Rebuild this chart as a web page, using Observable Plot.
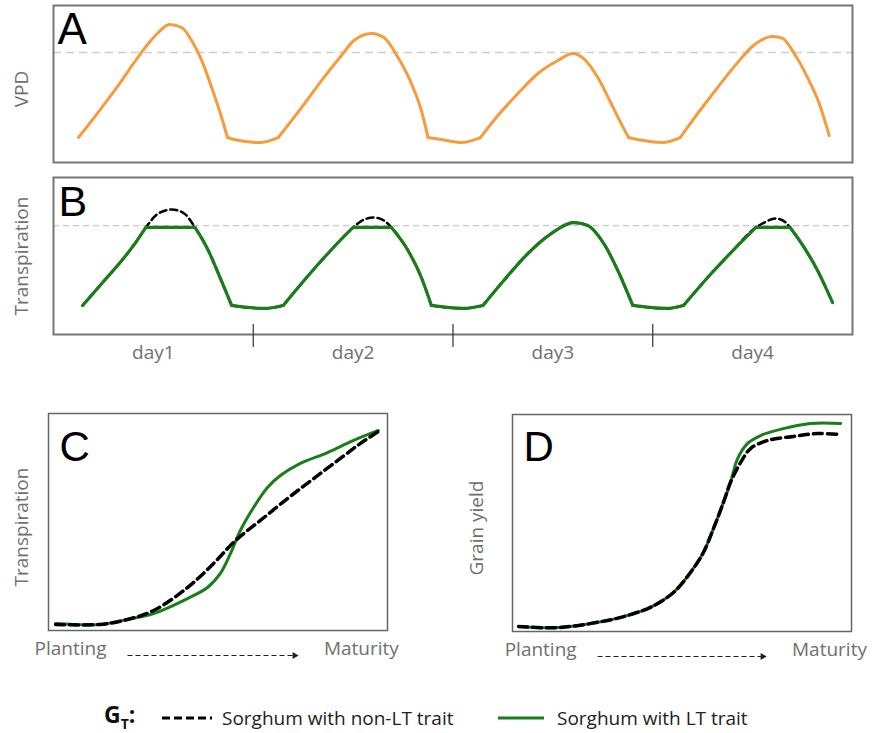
<!DOCTYPE html>
<html>
<head>
<meta charset="utf-8">
<script src="https://cdn.jsdelivr.net/npm/d3@7"></script>
<script src="https://cdn.jsdelivr.net/npm/@observablehq/plot@0.6"></script>
<style>
  body { margin: 0; background: #fff; }
  #fig { position: relative; width: 874px; height: 733px; background: #fff; font-family: "Open Sans", sans-serif; overflow: hidden; }
  .panel { position: absolute; }
  .panel svg { display: block; overflow: visible; }
  .leg { position: absolute; height: 28px; line-height: 28px; color: #222; font-size: 19px; white-space: nowrap; }
  .leg svg { display: block; }
</style>
</head>
<body>
<div id="fig"></div>
<script>
// ---------- Panel A: VPD over four days (hours 0-96, arbitrary units 0-100) ----------
const vpdHour = [3.0,5.8,8.2,9.7,11.4,12.6,13.9,15.4,16.6,17.8,19.0,20.2,20.9,21.7,24.8,27.0,29.8,32.2,34.6,36.1,38.2,39.7,41.4,43.0,44.2,45.0,46.6,49.0,51.3,53.4,55.8,58.2,60.6,62.4,63.7,65.4,67.0,68.2,69.1,70.2,73.2,75.3,77.4,79.8,82.2,84.1,86.4,87.6,89.0,90.6,92.0,93.2];
const vpdValue = [15.9,35.0,52.2,63.7,75.8,82.8,87.9,86.0,77.7,65.0,47.8,28.7,15.9,14.6,12.7,15.9,35.0,52.2,68.2,77.7,82.2,79.6,66.9,50.3,33.1,15.9,14.6,12.7,15.9,29.9,43.9,56.7,65.0,69.4,66.2,54.1,37.6,24.8,15.9,14.6,12.7,15.9,31.2,47.8,63.7,74.5,80.3,79.0,69.4,54.1,37.6,17.2];
const vpdCorners = [12, 15, 25, 28, 38, 41];   // indices where the night-time plateau starts/ends
const vpdThreshold = 70.1;

// ---------- Panel B: transpiration over four days ----------
const transpHour = [3.5,5.8,8.2,9.8,11.1,12.6,14.2,15.7,17.0,18.6,19.8,21.4,25.3,27.6,29.8,32.2,34.2,36.0,37.3,38.5,39.7,40.6,42.6,44.2,45.4,49.2,51.6,54.1,57.0,59.8,62.5,64.2,66.1,67.8,69.6,73.6,75.7,78.6,81.4,84.4,85.4,86.8,88.0,88.5,90.2,91.8,93.6];
const transpNonLT = [18.5,32.5,47.1,58.0,68.2,77.1,79.6,77.1,68.2,53.5,38.9,18.5,16.6,18.5,32.5,47.1,58.6,68.2,73.2,74.5,72.6,68.2,53.5,36.3,18.5,16.6,18.5,34.4,51.6,64.3,71.3,69.4,58.0,40.8,18.5,16.6,18.5,36.3,52.2,68.2,71.3,73.9,71.3,68.2,55.4,40.8,20.4];
const transpLT = [18.5,32.5,47.1,58.0,68.2,68.2,68.2,68.2,68.2,53.5,38.9,18.5,16.6,18.5,32.5,47.1,58.6,68.2,68.2,68.2,68.2,68.2,53.5,36.3,18.5,16.6,18.5,34.4,51.6,64.3,71.3,69.4,58.0,40.8,18.5,16.6,18.5,36.3,52.2,68.2,68.2,68.2,68.2,68.2,55.4,40.8,20.4];
const transpCorners = [11, 13, 24, 26, 34, 36];  // night-time plateau starts/ends
const capCorners = [4, 8, 17, 21, 39, 43];       // where the LT line meets / leaves its cap
const transpThreshold = 69.4;
const dayBounds = [24, 48, 72];
const dayCenters = [12, 36, 60, 84];
const dayLabels = ["day1", "day2", "day3", "day4"];

// ---------- Panel C: cumulative transpiration, planting (0) to maturity (100) ----------
const cNonLTx = [2.1,15.3,23.3,31.0,41.0,48.7,55.2,62.5,70.5,78.2,86.1,92.0,97.3];
const cNonLTy = [2.8,2.8,5.1,9.2,19.8,30.9,41.5,50.7,60.8,70.0,79.3,86.2,91.7];
const cLTx = [2.1,15.3,23.3,31.0,41.0,46.9,50.7,53.7,56.6,60.5,64.6,68.4,74.3,82.3,90.0,97.3];
const cLTy = [3.2,2.8,5.1,7.8,14.7,19.8,26.3,35.5,46.1,56.7,65.9,71.4,77.0,82.0,87.6,92.2];

// ---------- Panel D: grain yield, planting (0) to maturity (100) ----------
const dNonLTx = [1.8,13.3,28.0,34.8,40.7,47.5,52.5,56.3,59.3,62.2,64.3,67.3,70.2,75.2,82.9,90.0,96.8];
const dNonLTy = [2.3,1.8,5.1,7.8,11.1,18.0,27.2,36.4,47.5,59.4,68.7,77.9,84.3,88.0,89.9,91.2,90.8];
const dLTx = [1.8,13.3,28.0,34.8,40.7,47.5,52.5,56.3,59.3,62.2,64.3,66.4,69.3,73.2,79.9,87.9,96.8];
const dLTy = [2.3,1.8,5.1,7.8,11.1,18.0,27.2,36.4,47.5,59.4,68.7,79.7,86.6,90.3,93.5,95.9,95.9];

const stageLabels = ["Planting", "Maturity"];
const stageLabelPosC = [6.5, 92.3];
const stageLabelPosD = [8.3, 93.5];
const stageArrowC = [23.3, 72.3];
const stageArrowD = [25.1, 73.5];

const legendLabels = ["Sorghum with non-LT trait", "Sorghum with LT trait"];

// ---------- styling ----------
const ORANGE = "#f79b3f";
const GREEN = "#1a7d1a";
const LABEL_GRAY = "#707070";
const LETTER_FONT = "'Liberation Sans', Arial, sans-serif";
const LABEL_FONT = "'Open Sans', sans-serif";

const fig = document.getElementById("fig");
function place(svg, left, top) {
  const d = document.createElement("div");
  d.className = "panel";
  d.style.left = left + "px";
  d.style.top = top + "px";
  d.appendChild(svg);
  fig.appendChild(d);
}
const pts = (xs, ys) => xs.map((x, i) => ({x, y: ys[i]}));
// split a series into pieces at corner indices (corner point shared by both pieces) so corners stay sharp
function pieces(xs, ys, corners) {
  const cs = [...corners].sort((a, b) => a - b);
  const out = [];
  let seg = 0;
  xs.forEach((x, i) => {
    out.push({x, y: ys[i], seg});
    if (cs.includes(i)) { seg++; out.push({x, y: ys[i], seg}); }
  });
  return out;
}
const noAxes = {x: {domain: [0, 96], axis: null}, y: {domain: [0, 100], axis: null}};
const yLabelOpts = {frameAnchor: "left", textAnchor: "middle", lineAnchor: "middle", rotate: -90, fontSize: 19, fontFamily: LABEL_FONT, fill: LABEL_GRAY};

// Panel A
place(Plot.plot({
  width: 874, height: 170,
  marginLeft: 53, marginRight: 22, marginTop: 5, marginBottom: 8,
  ...noAxes,
  style: {background: "transparent", overflow: "visible"},
  marks: [
    Plot.ruleY([vpdThreshold], {stroke: "#cfcfcf", strokeWidth: 1.5, strokeDasharray: "8,5"}),
    Plot.line(pieces(vpdHour, vpdValue, vpdCorners), {x: "x", y: "y", z: "seg", stroke: ORANGE, strokeWidth: 3, curve: "monotone-x", strokeLinejoin: "round", strokeLinecap: "round"}),
    Plot.frame({stroke: "#777", strokeWidth: 2}),
    Plot.text(["A"], {frameAnchor: "top-left", textAnchor: "start", lineAnchor: "top", dx: 4, dy: 7, fontSize: 44, fontFamily: LETTER_FONT, fill: "black"}),
    Plot.text(["VPD"], {...yLabelOpts, dx: -32, dy: 5})
  ]
}), 0, 0);

// Panel B
place(Plot.plot({
  width: 874, height: 200,
  marginLeft: 53, marginRight: 22, marginTop: 7, marginBottom: 36,
  ...noAxes,
  style: {background: "transparent", overflow: "visible"},
  marks: [
    Plot.ruleY([transpThreshold], {stroke: "#c8c8c8", strokeWidth: 1.2, strokeDasharray: "6,4"}),
    Plot.line(pieces(transpHour, transpNonLT, transpCorners), {x: "x", y: "y", z: "seg", stroke: "black", strokeWidth: 2.5, strokeDasharray: "7,4", curve: "monotone-x"}),
    Plot.line(pieces(transpHour, transpLT, [...transpCorners, ...capCorners]), {x: "x", y: "y", z: "seg", stroke: GREEN, strokeWidth: 3.2, curve: "monotone-x", strokeLinecap: "round"}),
    Plot.frame({stroke: "#777", strokeWidth: 2}),
    Plot.ruleX(dayBounds, {y1: -8.3, y2: 6.4, stroke: "#333", strokeWidth: 1.2}),
    Plot.text(dayLabels, {x: dayCenters, frameAnchor: "bottom", dy: 24, fontSize: 19, fontFamily: LABEL_FONT, fill: LABEL_GRAY}),
    Plot.text(["B"], {frameAnchor: "top-left", textAnchor: "start", lineAnchor: "top", dx: 5, dy: 8, fontSize: 43, fontFamily: LETTER_FONT, fill: "black"}),
    Plot.text(["Transpiration"], {...yLabelOpts, dx: -32, dy: 0})
  ]
}), 0, 170);

function stagePanel({letter, yLabel, nonLT, lt, labelPos, arrow, marginLeft, marginRight, marginTop, marginBottom, letterDx, letterDy, labelDx}) {
  return Plot.plot({
    width: 437, height: 270,
    marginLeft, marginRight, marginTop, marginBottom,
    x: {domain: [0, 100], axis: null},
    y: {domain: [0, 100], axis: null},
    style: {background: "transparent", overflow: "visible"},
    marks: [
      Plot.line(lt, {x: "x", y: "y", stroke: GREEN, strokeWidth: 3, curve: "catmull-rom"}),
      Plot.line(nonLT, {x: "x", y: "y", stroke: "black", strokeWidth: 3.5, strokeDasharray: "9,5", curve: "catmull-rom"}),
      Plot.frame({stroke: "#666", strokeWidth: 1.5}),
      Plot.text([letter], {frameAnchor: "top-left", textAnchor: "start", lineAnchor: "top", dx: letterDx, dy: letterDy, fontSize: 42, fontFamily: LETTER_FONT, fill: "black"}),
      Plot.text([yLabel], {...yLabelOpts, dx: labelDx, dy: 5}),
      Plot.text(stageLabels, {x: labelPos, frameAnchor: "bottom", dy: 24, fontSize: 19, fontFamily: LABEL_FONT, fill: LABEL_GRAY}),
      Plot.link([{a: arrow[0], b: arrow[1]}], {x1: "a", x2: "b", y1: 0, y2: 0, dy: 25, stroke: "#222", strokeWidth: 1.2, strokeDasharray: "5,3"}),
      Plot.dot([{b: arrow[1]}], {x: "b", y: 0, dy: 25, dx: 1, symbol: "triangle", rotate: 90, r: 2.6, fill: "#222", stroke: "none"})
    ]
  });
}

place(stagePanel({
  letter: "C", yLabel: "Transpiration",
  nonLT: pts(cNonLTx, cNonLTy), lt: pts(cLTx, cLTy),
  labelPos: stageLabelPosC, arrow: stageArrowC,
  marginLeft: 48, marginRight: 50, marginTop: 13, marginBottom: 40,
  letterDx: 11, letterDy: 18, labelDx: -27
}), 0, 400);

place(stagePanel({
  letter: "D", yLabel: "Grain yield",
  nonLT: pts(dNonLTx, dNonLTy), lt: pts(dLTx, dLTy),
  labelPos: stageLabelPosD, arrow: stageArrowD,
  marginLeft: 75, marginRight: 23, marginTop: 14, marginBottom: 39,
  letterDx: 11, letterDy: 17, labelDx: -36
}), 437, 400);

// Legend (below the panels)
function legItem(left, top, html) {
  const d = document.createElement("div");
  d.className = "leg";
  d.style.left = left + "px";
  d.style.top = top + "px";
  d.innerHTML = html;
  fig.appendChild(d);
  return d;
}
legItem(104, 700, '<span style="font-weight:700;font-size:23px;color:#111">G<span style="font-size:14px;position:relative;top:6px">T</span>:</span>');
legItem(162, 704, '<svg width="52" height="28"><line x1="0" x2="50" y1="14" y2="14" stroke="black" stroke-width="3" stroke-dasharray="8,4"/></svg>');
legItem(222, 704, legendLabels[0]);
legItem(498, 704, '<svg width="46" height="28"><line x1="0" x2="46" y1="14" y2="14" stroke="' + GREEN + '" stroke-width="3"/></svg>');
legItem(557, 704, legendLabels[1]);
</script>
</body>
</html>
